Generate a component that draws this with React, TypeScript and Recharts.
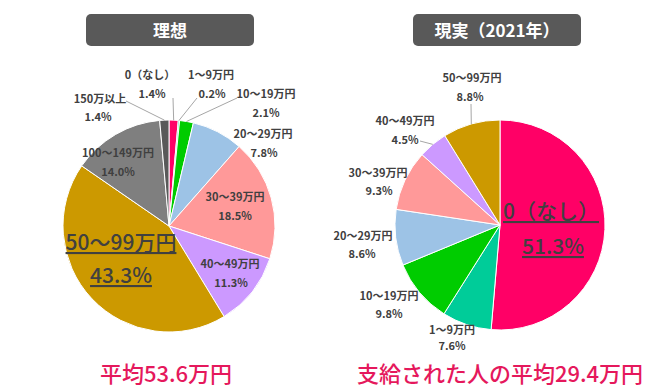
import React from "react";
import { PieChart, Pie, Cell } from "recharts";

const leftNames = [
  "0（なし）",
  "1～9万円",
  "10～19万円",
  "20～29万円",
  "30～39万円",
  "40～49万円",
  "50～99万円",
  "100～149万円",
  "150万以上",
];
const leftValues = [1.4, 0.2, 2.1, 7.8, 18.5, 11.3, 43.3, 14.0, 1.4];

const rightNames = [
  "0（なし）",
  "1～9万円",
  "10～19万円",
  "20～29万円",
  "30～39万円",
  "40～49万円",
  "50～99万円",
];
const rightValues = [51.3, 7.6, 9.8, 8.6, 9.3, 4.5, 8.8];

const titles = ["理想", "現実（2021年）"];
const averages = ["平均53.6万円", "支給された人の平均29.4万円"];

const sliceColors: Record<string, string> = {
  "0（なし）": "#FF0066",
  "1～9万円": "#00CC99",
  "10～19万円": "#00CC00",
  "20～29万円": "#9DC3E6",
  "30～39万円": "#FF9999",
  "40～49万円": "#CC99FF",
  "50～99万円": "#CC9900",
  "100～149万円": "#7F7F7F",
  "150万以上": "#595959",
};

const leftData = leftNames.map((name, i) => ({ name, value: leftValues[i] }));
const rightData = rightNames.map((name, i) => ({ name, value: rightValues[i] }));

// label placement relative to pie centre: name line (nx, ny), percent line (px, py), optional leader start
type LabelPos = { nx: number; ny: number; px: number; py: number; lead?: [number, number]; big?: boolean };

const leftLabels: LabelPos[] = [
  { nx: -19, ny: -152, px: -17, py: -133, lead: [4, -128] },
  { nx: 42, ny: -152, px: 43, py: -133, lead: [28, -128] },
  { nx: 97, ny: -133, px: 97, py: -114, lead: [68, -128] },
  { nx: 94, ny: -93, px: 95, py: -74 },
  { nx: 66, ny: -30, px: 66, py: -11 },
  { nx: 61, ny: 37, px: 62, py: 56 },
  { nx: -48, ny: 15, px: -48, py: 48, big: true },
  { nx: -51, ny: -74, px: -51, py: -55 },
  { nx: -69, ny: -128, px: -71, py: -110, lead: [-43, -125] },
];

const rightLabels: LabelPos[] = [
  { nx: 51, ny: -15, px: 53, py: 20, big: true },
  { nx: -48, ny: 104, px: -48, py: 120 },
  { nx: -111, ny: 70, px: -111, py: 88 },
  { nx: -137, ny: 10, px: -138, py: 28 },
  { nx: -122, ny: -53, px: -121, py: -35 },
  { nx: -95, ny: -105, px: -95, py: -86, lead: [-80, -84] },
  { nx: -28, ny: -148, px: -30, py: -129, lead: [-29, -121] },
];

const FONT = "'Noto Sans CJK JP', 'Noto Sans', sans-serif";
const RAD = Math.PI / 180;

const makeLabel = (layout: LabelPos[]) => (props: any) => {
  const { cx, cy, midAngle, outerRadius, index, name, value } = props;
  const pos = layout[index];
  const ax = cx + outerRadius * Math.cos(-midAngle * RAD);
  const ay = cy + outerRadius * Math.sin(-midAngle * RAD);
  const size = pos.big ? 21 : 11;
  const deco = pos.big ? "underline" : "none";
  return (
    <g key={`lbl-${index}`}>
      {pos.lead && (
        <line
          x1={cx + pos.lead[0]}
          y1={cy + pos.lead[1]}
          x2={ax}
          y2={ay}
          stroke="#A6A6A6"
          strokeWidth={1}
        />
      )}
      <text
        x={cx + pos.nx}
        y={cy + pos.ny}
        textAnchor="middle"
        dominantBaseline="central"
        fontSize={size}
        fontWeight={pos.big ? 500 : 700}
        fill="#404040"
        fontFamily={FONT}
        style={{ textDecoration: deco }}
      >
        {name}
      </text>
      <text
        x={cx + pos.px}
        y={cy + pos.py}
        textAnchor="middle"
        dominantBaseline="central"
        fontSize={size}
        fontWeight={pos.big ? 500 : 700}
        fill="#404040"
        fontFamily={FONT}
        style={{ textDecoration: deco }}
      >
        {`${Number(value).toFixed(1)}%`}
      </text>
    </g>
  );
};

const titleBox = (left: number, text: string) => (
  <div
    style={{
      position: "absolute",
      left,
      top: 14,
      width: 168,
      height: 32,
      background: "#595959",
      borderRadius: 5,
      color: "#fff",
      fontFamily: FONT,
      fontWeight: 700,
      fontSize: 17,
      lineHeight: "32px",
      textAlign: "center",
    }}
  >
    {text}
  </div>
);

const average = (left: number, width: number, text: string) => (
  <div
    style={{
      position: "absolute",
      left,
      top: 361,
      width,
      textAlign: "center",
      color: "#E5185C",
      fontFamily: FONT,
      fontWeight: 500,
      fontSize: 22,
      lineHeight: "22px",
      whiteSpace: "nowrap",
    }}
  >
    {text}
  </div>
);

export default function App() {
  return (
    <div style={{ position: "absolute", left: 0, top: 0, width: 650, height: 390, background: "#fff" }}>
      <PieChart width={650} height={390} margin={{ top: 0, right: 0, bottom: 0, left: 0 }}>
        <Pie
          data={leftData}
          dataKey="value"
          nameKey="name"
          cx={169}
          cy={226}
          outerRadius={106}
          startAngle={90}
          endAngle={-270}
          stroke="#fff"
          strokeWidth={1}
          labelLine={false}
          label={makeLabel(leftLabels)}
          isAnimationActive={false}
        >
          {leftData.map((d) => (
            <Cell key={d.name} fill={sliceColors[d.name]} />
          ))}
        </Pie>
        <Pie
          data={rightData}
          dataKey="value"
          nameKey="name"
          cx={500}
          cy={225}
          outerRadius={105}
          startAngle={90}
          endAngle={-270}
          stroke="#fff"
          strokeWidth={1}
          labelLine={false}
          label={makeLabel(rightLabels)}
          isAnimationActive={false}
        >
          {rightData.map((d) => (
            <Cell key={d.name} fill={sliceColors[d.name]} />
          ))}
        </Pie>
      </PieChart>
      {titleBox(86, titles[0])}
      {titleBox(413, titles[1])}
      {average(86, 160, averages[0])}
      {average(340, 320, averages[1])}
    </div>
  );
}
